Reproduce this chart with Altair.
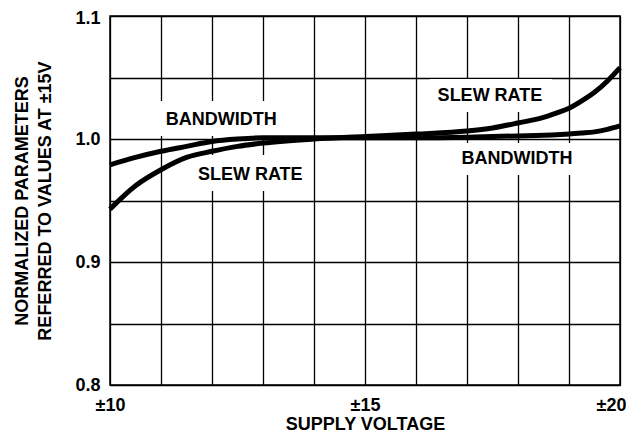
import altair as alt
import pandas as pd

# ---- data ----
voltage = [10, 10.5, 11, 11.5, 12, 12.5, 13, 14, 15, 16, 17, 17.5, 18, 18.5,
           18.75, 19, 19.25, 19.5, 19.75, 20]
bandwidth = [0.979, 0.985, 0.990, 0.994, 0.998, 1.000, 1.001, 1.001, 1.001, 1.001,
             1.0015, 1.002, 1.0025, 1.003, 1.0035, 1.004, 1.0048, 1.0058, 1.0078, 1.0106]
slew_rate = [0.943, 0.962, 0.975, 0.985, 0.990, 0.994, 0.9967, 1.000, 1.002, 1.004,
             1.0065, 1.009, 1.013, 1.0175, 1.021, 1.025, 1.031, 1.038, 1.047, 1.058]

x_ticks = list(range(10, 21))
y_ticks = [0.80, 0.85, 0.90, 0.95, 1.00, 1.05, 1.10]

label_text = ["BANDWIDTH", "SLEW RATE", "SLEW RATE", "BANDWIDTH"]
label_x = [12.18, 12.75, 17.45, 17.98]
label_y = [1.0155, 0.9707, 1.035, 0.9837]
# white boxes behind the labels (grid lines are broken there)
mask_x1 = [10.78, 11.47, 16.27, 16.71]
mask_x2 = [13.53, 13.86, 18.67, 19.25]
mask_y1 = [1.0309, 0.9870, 1.0488, 0.9967]
mask_y2 = [1.0024, 0.9577, 1.0220, 0.9707]

FONT = "Liberation Sans"

rows = []
for v, b, s in zip(voltage, bandwidth, slew_rate):
    rows.append({"v": v, "val": b, "series": "BANDWIDTH"})
    rows.append({"v": v, "val": s, "series": "SLEW RATE"})
curves = pd.DataFrame(rows)
labels = pd.DataFrame({"t": label_text, "x": label_x, "y": label_y})
masks = pd.DataFrame({"x1": mask_x1, "x2": mask_x2, "y1": mask_y1, "y2": mask_y2})

xscale = alt.Scale(domain=[10, 20], nice=False, zero=False)
yscale = alt.Scale(domain=[0.8, 1.1], nice=False, zero=False)

xaxis = alt.Axis(
    values=x_ticks,
    labelExpr="datum.value % 5 == 0 ? '±' + datum.value : ''",
    labelFlush=False,
    labelAlign="center",
    labelOffset=alt.condition("datum.value == 20", alt.value(-9), alt.value(0)),
    title="SUPPLY VOLTAGE",
    titleX=255, titleY=44, titleBaseline="alphabetic", titleAlign="center",
    labelPadding=11, labelBaseline="top",
)
yaxis = alt.Axis(
    values=y_ticks,
    labelExpr="round(datum.value * 100) % 10 == 0 ? format(datum.value, '.1f') : ''",
    labelFlush=False,
    labelOffset=alt.condition("datum.value > 1.09", alt.value(2), alt.value(0)),
    title=["NORMALIZED PARAMETERS", "REFERRED TO VALUES AT ±15V"],
    titleX=-83, titleY=184.5, titleBaseline="alphabetic", titleAlign="center",
    titleAngle=270, titleLineHeight=23,
    labelPadding=10, labelBaseline="middle",
)

lines = alt.Chart(curves).mark_line(
    strokeWidth=5, color="black", interpolate="monotone", strokeCap="butt"
).encode(
    x=alt.X("v:Q", scale=xscale, axis=xaxis),
    y=alt.Y("val:Q", scale=yscale, axis=yaxis),
    detail="series:N",
)

mask_layer = alt.Chart(masks).mark_rect(color="white").encode(
    x=alt.X("x1:Q", scale=xscale),
    x2="x2:Q",
    y=alt.Y("y1:Q", scale=yscale),
    y2="y2:Q",
)

text_layer = alt.Chart(labels).mark_text(
    font=FONT, fontWeight="bold", fontSize=18, color="black",
    align="center", baseline="middle",
).encode(
    x=alt.X("x:Q", scale=xscale),
    y=alt.Y("y:Q", scale=yscale),
    text="t:N",
)

chart = alt.layer(mask_layer, lines, text_layer).properties(
    width=510, height=369,
    autosize="none",
    padding={"left": 102, "top": 8, "right": 6, "bottom": 48},
).configure_view(
    stroke="black", strokeWidth=1.5
).configure_axis(
    grid=True, gridColor="black", gridWidth=1.3, gridOpacity=1,
    domain=False, ticks=False, tickSize=0,
    labelFont=FONT, labelFontSize=18, labelFontWeight="bold", labelColor="black",
    titleFont=FONT, titleFontSize=18, titleFontWeight="bold", titleColor="black",
)

chart.save("out.html", embed_options={"renderer": "svg", "actions": False})
